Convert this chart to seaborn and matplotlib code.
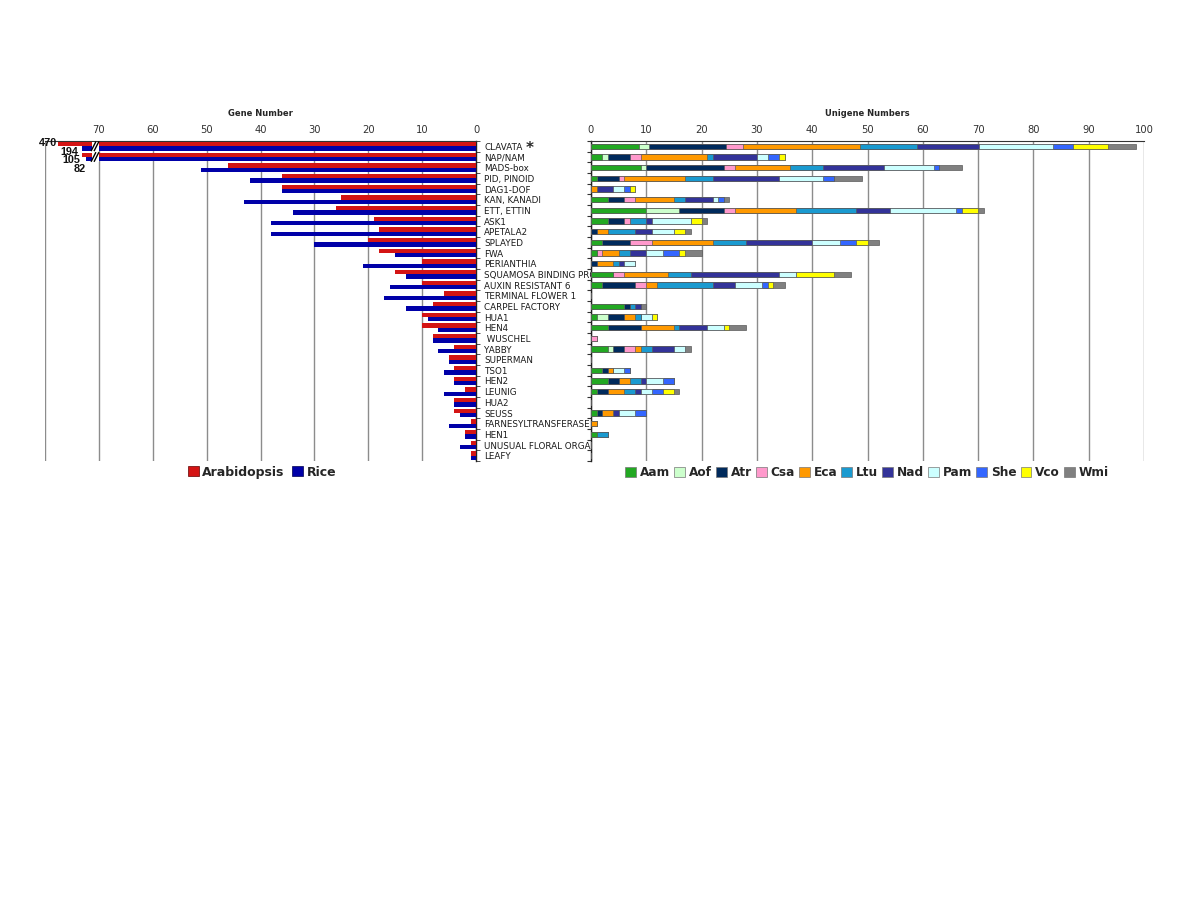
import numpy as np
import pandas as pd
import matplotlib
matplotlib.use("Agg")
import matplotlib.pyplot as plt
from matplotlib.patches import Patch, Rectangle
import seaborn as sns

categories = ["CLAVATA", "NAP/NAM", "MADS-box", "PID, PINOID", "DAG1-DOF", "KAN, KANADI",
              "ETT, ETTIN", "ASK1", "APETALA2", "SPLAYED", "FWA", "PERIANTHIA",
              "SQUAMOSA BINDING PROTEIN", "AUXIN RESISTANT 6", "TERMINAL FLOWER 1",
              "CARPEL FACTORY", "HUA1", "HEN4", " WUSCHEL", "YABBY", "SUPERMAN", "TSO1",
              "HEN2", "LEUNIG", "HUA2", "SEUSS", "FARNESYLTRANSFERASE", "HEN1",
              "UNUSUAL FLORAL ORGANS", "LEAFY"]

arabidopsis = [470, 105, 46, 36, 36, 25, 26, 19, 18, 20, 18, 10, 15, 10, 6, 8, 10, 10, 8, 4,
               5, 4, 4, 2, 4, 4, 1, 2, 1, 1]
rice = [194, 82, 51, 42, 36, 43, 34, 38, 38, 30, 15, 21, 13, 16, 17, 13, 9, 7, 8, 7,
        5, 6, 4, 6, 4, 3, 5, 2, 3, 1]
# drawn length of the bars that are cut by the axis break
broken_length = {470: 77.5, 194: 73.2, 105: 73.2, 82: 72.4}
break_at = 70

species = ["Aam", "Aof", "Atr", "Csa", "Eca", "Ltu", "Nad", "Pam", "She", "Vco", "Wmi"]
Aam = [8.6, 2, 9, 1, 0, 3, 10, 3, 0, 2, 1, 0, 4, 2, 0, 6, 1, 3, 0, 3, 0, 2, 3, 1, 0, 1, 0, 1, 0, 0]
Aof = [1.8, 1, 1, 0, 0, 0, 6, 0, 0, 0, 0, 0, 0, 0, 0, 0, 2, 0, 0, 1, 0, 0, 0, 0, 0, 0, 0, 0, 0, 0]
Atr = [14.1, 4, 14, 4, 0, 3, 8, 3, 1, 5, 0, 1, 0, 6, 0, 1, 3, 6, 0, 2, 0, 1, 2, 2, 0, 1, 0, 0, 0, 0]
Csa = [3.0, 2, 2, 1, 0, 2, 2, 1, 0, 4, 1, 0, 2, 2, 0, 0, 0, 0, 1, 2, 0, 0, 0, 0, 0, 0, 0, 0, 0, 0]
Eca = [21.1, 12, 10, 11, 1, 7, 11, 0, 2, 11, 3, 3, 8, 2, 0, 0, 2, 6, 0, 1, 0, 1, 2, 3, 0, 2, 1, 0, 0, 0]
Ltu = [10.4, 1, 6, 5, 0, 2, 11, 3, 5, 6, 2, 1, 4, 10, 0, 1, 1, 1, 0, 2, 0, 0, 2, 2, 0, 0, 0, 2, 0, 0]
Nad = [11.1, 8, 11, 12, 3, 5, 6, 1, 3, 12, 3, 1, 16, 4, 0, 1, 0, 5, 0, 4, 0, 0, 1, 1, 0, 1, 0, 0, 0, 0]
Pam = [13.5, 2, 9, 8, 2, 1, 12, 7, 4, 5, 3, 2, 3, 5, 0, 0, 2, 3, 0, 2, 0, 2, 3, 2, 0, 3, 0, 0, 0, 0]
She = [3.5, 2, 1, 2, 1, 1, 1, 0, 0, 3, 3, 0, 0, 1, 0, 0, 0, 0, 0, 0, 0, 1, 2, 2, 0, 2, 0, 0, 0, 0]
Vco = [6.4, 1, 0, 0, 1, 0, 3, 2, 2, 2, 1, 0, 7, 1, 0, 0, 1, 1, 0, 0, 0, 0, 0, 2, 0, 0, 0, 0, 0, 0]
Wmi = [5.1, 0, 4, 5, 0, 1, 1, 1, 1, 2, 3, 0, 3, 2, 0, 1, 0, 3, 0, 1, 0, 0, 0, 1, 0, 0, 0, 0, 0, 0]
unigene = [Aam, Aof, Atr, Csa, Eca, Ltu, Nad, Pam, She, Vco, Wmi]

species_colors = ["#22A822", "#CCFFCC", "#002A5C", "#FF99CC", "#FF9900", "#1A9AD0",
                  "#333399", "#CCFFFF", "#3366FF", "#FFFF00", "#808080"]
red, blue = "#D41414", "#0000A8"

sns.set_style("white")
plt.rcParams["font.family"] = ["DejaVu Sans"]

W, H = 1200, 900
fig = plt.figure(figsize=(12, 9), dpi=100)
ax1 = fig.add_axes([45 / W, 1 - 461 / H, (476 - 45) / W, 320 / H])
ax2 = fig.add_axes([591 / W, 1 - 461 / H, (1144 - 591) / W, 320 / H])

# ---------------- left panel: gene numbers ----------------
def shown(v):
    return broken_length.get(v, v) if v > break_at else v

df = pd.DataFrame({
    "cat": categories * 2,
    "val": [shown(v) for v in arabidopsis] + [shown(v) for v in rice],
    "sp": ["Arabidopsis"] * len(categories) + ["Rice"] * len(categories),
})
sns.barplot(data=df, y="cat", x="val", hue="sp", orient="h", order=categories,
            palette=[red, blue], saturation=1, width=0.8, errorbar=None,
            linewidth=0, ax=ax1, legend=False, zorder=3)

ax1.set_xlim(80, 0)
ax1.set_ylim(len(categories) - 0.5, -0.5)
ax1.set_xticks(np.arange(0, 81, 10))
ax1.set_xticklabels([str(t) if t < 80 else "" for t in range(0, 81, 10)])
ax1.xaxis.tick_top()
ax1.grid(axis="x", color="#8C8C8C", lw=1.0)
ax1.grid(axis="y", visible=False)
ax1.set_axisbelow(True)
ax1.set_xlabel("")
ax1.set_ylabel("")
ax1.yaxis.tick_right()
ax1.tick_params(axis="y", which="major", length=0, pad=6, labelsize=6.3,
                labelright=True, labelleft=False, labelcolor="#1a1a1a")
ax1.set_yticks(np.arange(len(categories) + 1) - 0.5, minor=True)
ax1.tick_params(axis="y", which="minor", length=3, direction="out", right=True,
                left=False, color="#333333")
ax1.tick_params(axis="x", length=0, pad=4, labelsize=7.2, labelcolor="#333333")
for s in ["left", "bottom"]:
    ax1.spines[s].set_visible(False)
ax1.spines["top"].set_color("#333333")
ax1.spines["top"].set_linewidth(0.8)
ax1.spines["right"].set_color("#222222")
ax1.spines["right"].set_linewidth(1.0)
ax1.text(0.5, 1.085, "Gene Number", transform=ax1.transAxes, ha="center",
         va="center", fontsize=6, fontweight="bold")

# axis-break marks on the cut bars
for row in [0, 1]:
    ax1.add_patch(Rectangle((break_at + 1.3, row - 0.45), -1.3, 0.9, facecolor="white",
                            edgecolor="none", zorder=4))
    for off in [0.0, 0.55]:
        ax1.plot([break_at + 0.9 + off, break_at + off], [row + 0.45, row - 0.45],
                 color="black", lw=1.0, zorder=5, solid_capstyle="butt")

# true values of the cut bars
num_kw = dict(ha="right", va="center", fontsize=7.8, fontweight="bold",
              family="Liberation Sans", clip_on=False, color="#111111")
ax1.text(broken_length[arabidopsis[0]] + 0.3, -0.3, str(arabidopsis[0]), **num_kw)
ax1.text(broken_length[rice[0]] + 0.6, 0.5, str(rice[0]), **num_kw)
ax1.text(broken_length[arabidopsis[1]] + 0.2, 1.3, str(arabidopsis[1]), **num_kw)
ax1.text(broken_length[rice[1]] + 0.0, 2.1, str(rice[1]), **num_kw)
fig.text(530 / W, 1 - 149 / H, "*", ha="center", va="center", fontsize=11,
         fontweight="bold")

# ---------------- right panel: unigene numbers (stacked) ----------------
cum = np.cumsum(np.array(unigene, dtype=float), axis=0)
for i in range(len(species) - 1, -1, -1):
    d = pd.DataFrame({"cat": categories, "val": cum[i]})
    sns.barplot(data=d, y="cat", x="val", orient="h", order=categories,
                color=species_colors[i], saturation=1, width=0.5, errorbar=None,
                edgecolor="#5a5a5a", linewidth=0.5, ax=ax2, zorder=3)

ax2.set_xlim(0, 100)
ax2.set_ylim(len(categories) - 0.5, -0.5)
ax2.set_xticks(np.arange(0, 101, 10))
ax2.xaxis.tick_top()
ax2.grid(axis="x", color="#8C8C8C", lw=1.0)
ax2.grid(axis="y", visible=False)
ax2.set_axisbelow(True)
ax2.set_xlabel("")
ax2.set_ylabel("")
ax2.set_yticks(np.arange(len(categories) + 1) - 0.5)
ax2.set_yticklabels([])
ax2.tick_params(axis="y", length=3, direction="out", left=True, color="#333333")
ax2.tick_params(axis="x", length=0, pad=4, labelsize=7.2, labelcolor="#333333")
for s in ["right", "bottom"]:
    ax2.spines[s].set_visible(False)
ax2.spines["top"].set_color("#333333")
ax2.spines["top"].set_linewidth(0.8)
ax2.spines["left"].set_color("#222222")
ax2.spines["left"].set_linewidth(1.0)
ax2.text(0.5, 1.085, "Unigene Numbers", transform=ax2.transAxes, ha="center",
         va="center", fontsize=6, fontweight="bold")

# ---------------- legends ----------------
h1 = [Patch(facecolor=red, edgecolor="#600000", lw=0.5, label="Arabidopsis"),
      Patch(facecolor=blue, edgecolor="#000050", lw=0.5, label="Rice")]
fig.legend(handles=h1, loc="center", bbox_to_anchor=(262 / W, 1 - 472 / H), ncol=2,
           frameon=False, handlelength=0.9, handleheight=0.9, handletextpad=0.25,
           columnspacing=0.6, prop={"weight": "bold", "size": 9})
h2 = [Patch(facecolor=c, edgecolor="#777777", lw=0.5, label=s)
      for s, c in zip(species, species_colors)]
fig.legend(handles=h2, loc="center", bbox_to_anchor=(867 / W, 1 - 473 / H), ncol=11,
           frameon=False, handlelength=0.9, handleheight=0.9, handletextpad=0.3,
           columnspacing=0.35, borderpad=0.2, prop={"weight": "bold", "size": 8.7})

fig.savefig("out.png", dpi=100, facecolor="white")
